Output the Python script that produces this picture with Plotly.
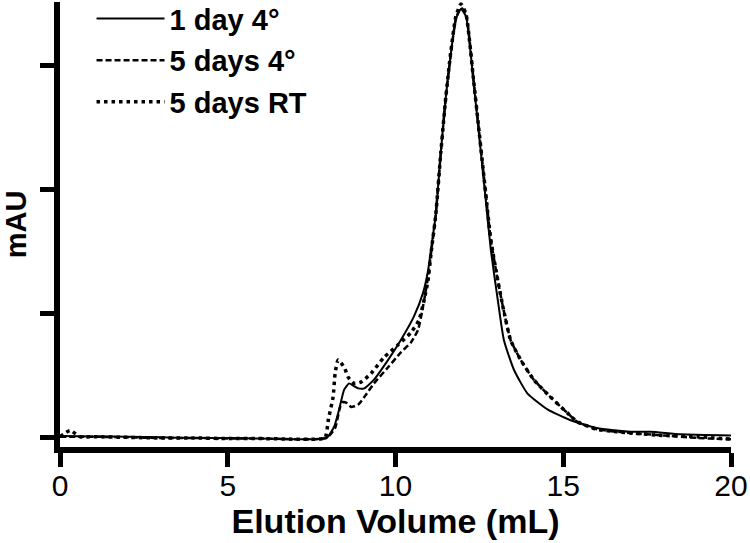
import plotly.graph_objects as go

# Elution volume (mL) and absorbance (arbitrary mAU units)
x_1day4 = [0, 1, 2, 3, 4, 5, 6, 7, 7.6, 7.95, 8.17, 8.32, 8.47, 8.62, 8.75, 8.89, 9.07, 9.36, 9.78,
           10.16, 10.55, 10.82, 10.97, 11.11, 11.2, 11.35, 11.5, 11.65, 11.8, 11.95, 12.1, 12.33,
           12.5, 12.69, 12.84, 13.05, 13.23, 13.53, 13.93, 14.53, 15.2, 16.0, 17.0, 17.6, 18.5, 20]
y_1day4 = [0.015, 0.012, 0.01, 0.005, 0.0, 0.0, -0.005, -0.01, -0.01, 0.0, 0.09, 0.23, 0.39, 0.44,
           0.42, 0.40, 0.40, 0.47, 0.63, 0.79, 0.98, 1.17, 1.35, 1.62, 1.8, 2.3, 2.75, 3.1, 3.38,
           3.46, 3.4, 2.86, 2.42, 1.92, 1.52, 1.11, 0.79, 0.55, 0.36, 0.23, 0.145, 0.08, 0.05, 0.05,
           0.03, 0.02]

x_5day4 = [0, 1, 2, 3, 4, 5, 6, 7, 7.6, 7.95, 8.2, 8.35, 8.44, 8.56, 8.68, 8.89, 9.07, 9.36, 9.78,
           10.16, 10.46, 10.67, 10.82, 10.97, 11.11, 11.2, 11.35, 11.5, 11.65, 11.8, 11.95, 12.1,
           12.33, 12.5, 12.69, 12.84, 13.05, 13.2, 13.43, 13.73, 14.12, 14.62, 15.13, 15.42, 16.0,
           17.0, 18.0, 19.0, 20]
y_5day4 = [0.01, 0.01, 0.005, 0.0, 0.0, -0.005, -0.005, -0.01, -0.01, 0.0, 0.08, 0.25, 0.29, 0.28,
           0.25, 0.27, 0.33, 0.44, 0.57, 0.69, 0.77, 0.87, 1.06, 1.30, 1.6, 1.8, 2.3, 2.75, 3.1,
           3.38, 3.47, 3.42, 2.88, 2.45, 1.97, 1.6, 1.27, 1.06, 0.79, 0.63, 0.47, 0.33, 0.20, 0.13,
           0.07, 0.04, 0.02, 0.0, -0.01]

x_5dayRT = [0, 0.3, 0.6, 1, 2, 3, 4, 5, 6, 7, 7.6, 7.9, 8.0, 8.14, 8.2, 8.29, 8.47, 8.59, 8.77,
            8.97, 9.27, 9.66, 10.07, 10.46, 10.7, 10.85, 10.97, 11.06, 11.2, 11.35, 11.5, 11.65,
            11.8, 11.95, 12.1, 12.33, 12.5, 12.69, 12.84, 13.05, 13.2, 13.43, 13.73, 14.12, 14.62,
            15.13, 15.42, 16.0, 17.0, 18.0, 19.0, 20]
y_5dayRT = [0.01, 0.06, 0.01, 0.01, 0.005, 0.0, 0.0, -0.005, -0.005, -0.01, -0.01, 0.0, 0.15,
            0.33, 0.52, 0.63, 0.57, 0.49, 0.44, 0.45, 0.52, 0.65, 0.75, 0.85, 0.95, 1.11, 1.27,
            1.49, 1.8, 2.3, 2.75, 3.12, 3.4, 3.5, 3.42, 2.88, 2.45, 1.97, 1.6, 1.27, 1.06, 0.79,
            0.63, 0.47, 0.33, 0.20, 0.13, 0.07, 0.04, 0.02, 0.01, -0.01]

series_names = ["1 day 4°", "5 days 4°", "5 days RT"]
x_ticks = [0, 5, 10, 15, 20]
y_ticks = [0, 1, 2, 3]

FONT = "Liberation Sans, Arial, sans-serif"

fig = go.Figure()
fig.add_trace(go.Scatter(x=x_1day4, y=y_1day4, mode="lines", name=series_names[0],
                         line=dict(color="black", width=2, shape="spline", smoothing=0.5),
                         legendgroup="a"))
fig.add_trace(go.Scatter(x=x_5day4, y=y_5day4, mode="lines", name=series_names[1],
                         line=dict(color="black", width=2.5, dash="6px,3px", shape="spline",
                                   smoothing=0.5),
                         legendgroup="b"))
fig.add_trace(go.Scatter(x=x_5dayRT, y=y_5dayRT, mode="lines", name=series_names[2],
                         line=dict(color="black", width=3.5, dash="3.5px,4px", shape="spline",
                                   smoothing=0.5),
                         legendgroup="c"))

fig.update_layout(
    width=750, height=543,
    margin=dict(l=60, r=19, t=2, b=96, autoexpand=False),
    paper_bgcolor="white", plot_bgcolor="white",
    font=dict(family=FONT, color="black"),
    showlegend=True,
    legend=dict(x=0.047, y=1.02, xanchor="left", yanchor="top",
                font=dict(family=FONT, size=29, color="black", weight="bold"),
                bgcolor="rgba(0,0,0,0)", itemwidth=68, tracegroupgap=1,
                traceorder="grouped"),
    xaxis=dict(range=[0, 20], tickvals=x_ticks, ticktext=[str(v) for v in x_ticks],
               automargin=False,
               showgrid=False, zeroline=False, showline=True, linecolor="black", linewidth=6,
               ticks="outside", ticklen=14, tickwidth=5, tickcolor="black",
               ticklabelstandoff=-7,
               tickfont=dict(size=30, color="black", family=FONT),
               title=dict(text="Elution Volume (mL)",
                          font=dict(size=34, color="black", family=FONT, weight="bold"),
                          standoff=7)),
    yaxis=dict(range=[-0.073, 3.516], tickvals=y_ticks, showticklabels=False,
               automargin=False,
               showgrid=False, zeroline=False, showline=True, linecolor="black", linewidth=6,
               ticks="outside", ticklen=14, tickwidth=5, tickcolor="black",
               title=dict(text="mAU",
                          font=dict(size=29, color="black", family=FONT, weight="bold"),
                          standoff=9)),
)

fig.write_html("out.html", config={"displayModeBar": False},
               post_script="document.body.style.margin='0';document.body.style.padding='0';")
